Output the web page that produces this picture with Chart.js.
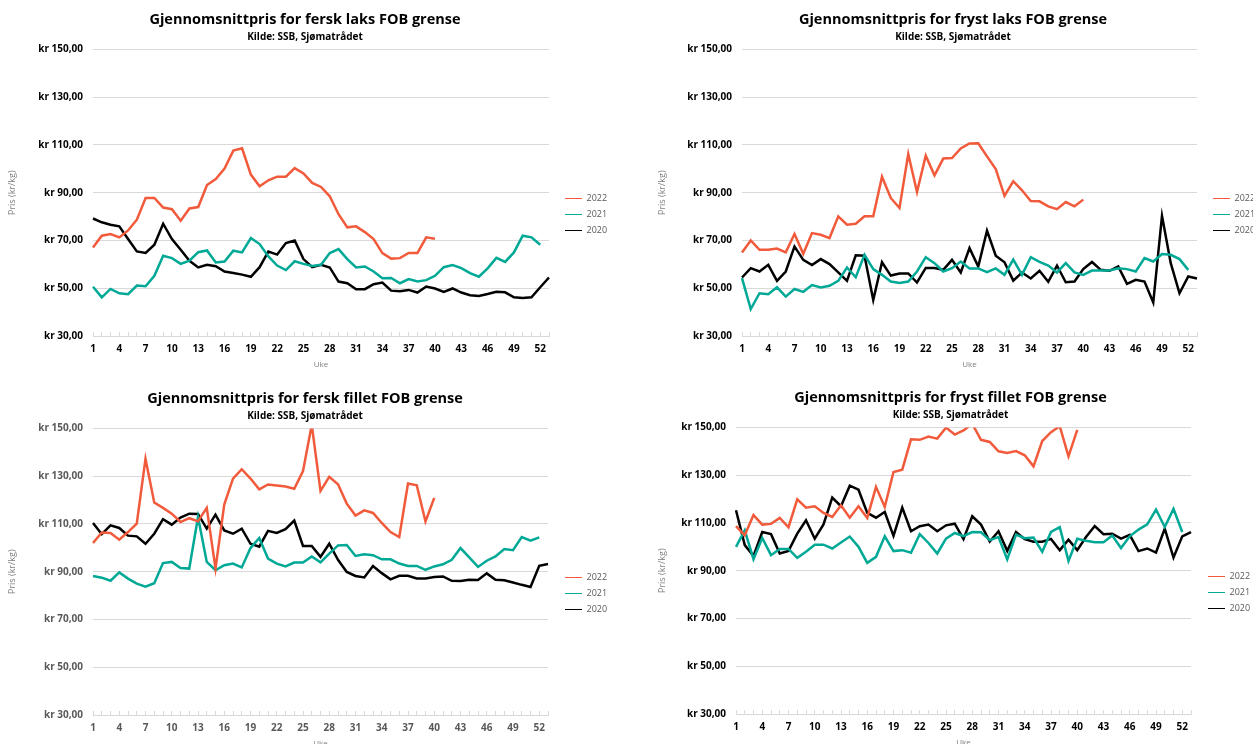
<!DOCTYPE html>
<html>
<head>
<meta charset="utf-8">
<script src="https://cdn.jsdelivr.net/npm/chart.js@4/dist/chart.umd.min.js"></script>
<style>
  html, body { margin: 0; padding: 0; background: #fff; overflow: hidden; width: 1253px; height: 744px; }
  canvas { position: absolute; }
</style>
</head>
<body>
<canvas id="ferskLaks" width="626" height="372" style="left:0;top:0"></canvas>
<canvas id="frystLaks" width="620" height="372" style="left:650px;top:0"></canvas>
<canvas id="ferskFillet" width="626" height="372" style="left:0;top:379px"></canvas>
<canvas id="frystFillet" width="615" height="372" style="left:650px;top:378px"></canvas>
<script>
// Uke 1-53
const weeks = ['1','2','3','4','5','6','7','8','9','10','11','12','13','14','15','16','17','18','19','20',
  '21','22','23','24','25','26','27','28','29','30','31','32','33','34','35','36','37','38','39','40',
  '41','42','43','44','45','46','47','48','49','50','51','52','53'];

// Fersk laks (kr/kg)
const ferskLaks2022 = [67.1,72.0,72.7,71.3,74.2,78.7,87.8,87.8,83.8,83.1, 78.3,83.4,84.0,93.2,95.7,100.1,107.6,108.6,97.6,92.7,
  95.2,96.7,96.7,100.3,98.1,94.1,92.4,88.5,81.0,75.5, 75.9,73.5,70.6,64.7,62.4,62.6,64.8,64.8,71.3,70.7];
const ferskLaks2021 = [50.6,46.2,49.7,47.9,47.5,51.1,50.8,55.2,63.6,62.6, 60.2,61.5,65.1,65.8,60.8,61.2,65.7,65.0,71.0,68.5,
  63.3,59.5,57.6,61.3,60.2,59.3,59.8,64.7,66.4,62.2, 58.7,59.1,57.0,54.2,54.3,52.1,53.8,52.8,53.4,55.2,
  58.8,59.7,58.4,56.3,54.8,58.3,62.7,61.0,65.0,72.0,71.3,68.2];
const ferskLaks2020 = [79.2,77.6,76.6,75.9,70.6,65.4,64.8,68.2,77.0,70.6, 66.1,61.5,58.7,59.8,59.2,57.0,56.4,55.7,54.8,58.8,
  65.4,64.1,68.9,70.0,62.2,58.8,59.8,58.7,52.8,52.1, 49.6,49.6,51.7,52.4,49.0,48.7,49.3,48.2,50.7,49.9,
  48.5,49.9,48.2,47.1,46.8,47.6,48.5,48.3,46.2,45.9,46.2,50.4,54.5];

// Fryst laks
const frystLaks2022 = [65.0,70.0,66.1,66.1,66.6,65.0,72.7,64.4,73.1,72.4, 71.0,80.1,76.6,77.0,80.1,80.1,96.7,87.8,83.6,106.2,
  90.3,105.5,97.3,104.3,104.5,108.5,110.6,110.7,105.2,99.9, 88.7,94.8,91.0,86.5,86.4,84.3,83.1,86.1,84.3,87.1];
const frystLaks2021 = [54.2,41.3,47.9,47.5,50.4,46.5,49.7,48.5,51.3,50.3, 51.0,53.1,58.7,54.6,64.0,58.0,55.6,52.8,52.2,52.8,
  57.0,63.0,60.5,57.0,58.4,61.2,58.3,58.3,56.7,58.3, 55.6,62.0,55.6,63.0,61.0,59.5,56.6,60.5,56.6,55.6,
  57.4,57.4,57.4,58.4,58.0,57.0,62.6,61.2,64.3,64.0,62.2,57.7];
const frystLaks2020 = [54.5,58.4,57.0,59.8,53.1,57.0,67.5,61.9,59.7,62.2, 60.1,56.6,53.1,63.8,63.6,45.1,60.9,55.3,56.2,56.2,
  52.4,58.5,58.5,57.7,61.9,56.6,66.8,59.1,74.1,63.6, 60.9,53.2,56.6,54.1,57.3,52.7,59.5,52.5,52.8,58.0,
  61.0,57.7,57.3,59.1,51.8,53.5,52.8,44.0,80.3,60.5,47.9,54.9,54.1];

// Fersk fillet
const ferskFillet2022 = [102.0,106.4,106.2,103.4,106.6,110.1,137.3,119.0,116.7,114.3, 110.8,112.4,111.1,116.7,91.3,118.1,129.0,132.9,129.0,124.5,
  126.5,126.1,125.7,124.7,132.1,151.5,123.8,129.7,126.6,118.5, 113.5,115.7,114.6,110.4,106.6,104.5,126.9,126.2,111.0,120.9];
const ferskFillet2021 = [88.2,87.5,86.2,89.7,87.1,85.0,83.7,85.2,93.6,94.1, 91.5,91.3,112.9,94.1,90.6,92.7,93.4,91.8,99.9,104.1,
  95.5,93.4,92.2,93.8,93.8,96.4,93.9,97.6,101.0,101.2, 96.6,97.3,96.9,95.2,95.2,93.4,92.4,92.4,90.8,92.2,
  93.1,95.0,99.9,96.0,92.0,94.6,96.4,99.5,99.0,104.5,103.0,104.4];
const ferskFillet2020 = [110.4,105.7,109.4,108.3,105.1,104.8,101.7,105.9,112.0,109.7, 112.7,114.3,114.2,108.0,113.9,107.3,105.9,108.0,101.7,100.5,
  107.1,106.2,107.8,111.4,100.8,100.8,96.2,101.7,95.0,89.9, 88.2,87.6,92.4,89.4,86.8,88.3,88.3,87.2,87.2,87.8,
  88.0,86.2,86.1,86.6,86.5,89.3,86.6,86.4,85.5,84.5,83.6,92.5,93.2];

// Fryst fillet
const frystFillet2022 = [108.7,104.8,113.3,109.3,109.6,112.1,108.2,119.9,116.4,117.0, 114.2,112.5,117.4,112.2,117.0,112.1,125.1,116.7,131.3,132.3,
  145.0,144.8,146.2,145.3,149.9,147.0,148.7,151.5,144.8,143.9, 140.0,139.3,140.1,138.3,133.7,144.3,148.0,150.5,137.9,149.0];
const frystFillet2021 = [100.0,106.9,94.8,103.7,96.5,99.1,99.1,95.4,97.9,100.9, 100.9,99.3,101.8,104.3,100.0,93.3,95.8,104.4,98.2,98.6,
  97.5,105.3,101.6,97.2,103.4,105.8,104.5,106.2,106.1,102.8, 104.1,94.7,105.1,103.6,103.9,97.9,106.2,108.2,94.1,103.4,
  102.5,101.9,101.9,104.7,99.5,104.4,107.2,109.4,115.6,108.3,115.9,106.2];
const frystFillet2020 = [115.3,100.7,96.2,106.2,105.3,97.2,98.3,105.5,111.1,103.4, 109.4,120.6,117.0,125.6,123.9,114.2,112.2,114.6,104.6,116.4,
  106.5,108.6,109.3,106.5,109.0,109.7,103.2,112.8,109.3,102.2, 106.5,98.3,106.2,103.2,102.1,102.1,103.3,98.6,103.0,98.6,
  104.1,108.7,105.3,105.5,103.4,105.0,98.2,99.3,97.6,107.6,95.5,104.4,106.2];

const ORANGE = '#F15A3B';
const TEAL = '#00A896';
const BLACK = '#000000';
const GRID = '#d9d9d9';

Chart.defaults.font.family = "'Open Sans', sans-serif";

function makeChart(id, title, s2022, s2021, s2020, box) {
  return new Chart(document.getElementById(id), {
    type: 'line',
    data: {
      labels: weeks,
      datasets: [
        { label: '2022', data: s2022, borderColor: ORANGE, backgroundColor: ORANGE, yAxisID: 'y' },
        { label: '2021', data: s2021, borderColor: TEAL, backgroundColor: TEAL, yAxisID: 'y' },
        { label: '2020', data: s2020, borderColor: BLACK, backgroundColor: BLACK, yAxisID: 'y' }
      ]
    },
    options: {
      responsive: false,
      animation: false,
      layout: { padding: { left: 0, top: 0, bottom: 0, right: box.padRight } },
      elements: {
        point: { radius: 0 },
        line: { borderWidth: 2.5, tension: 0 }
      },
      plugins: {
        title: {
          display: true, text: title, color: '#000',
          font: { size: 14.5, weight: 'bold' }, padding: { top: 11, bottom: 3 }
        },
        subtitle: {
          display: true, text: 'Kilde: SSB, Sjømatrådet', color: '#000',
          font: { size: 10, weight: 'bold' }, padding: { top: 0, bottom: 6 }
        },
        legend: {
          position: 'right',
          align: 'center',
          maxWidth: box.legendW,
          // empty title just pushes the items down a bit
          title: { display: true, text: ' ', font: { size: 10 }, padding: { top: 45, bottom: 0 } },
          labels: {
            usePointStyle: true, pointStyle: 'line', pointStyleWidth: 17,
            padding: 7, color: '#595959', font: { size: 9 }
          }
        },
        tooltip: { enabled: false }
      },
      scales: {
        x: {
          grid: { display: true, drawOnChartArea: false, drawTicks: true, tickLength: -4, color: GRID },
          border: { color: GRID },
          ticks: {
            autoSkip: false, maxRotation: 0, padding: 11,
            color: box.tickColor, font: { size: 10, weight: 'bold' },
            callback: (v, i) => (i % 3 === 0 ? weeks[i] : '')
          },
          title: { display: true, text: 'Uke', color: '#7f7f7f', font: { size: 8 }, padding: { top: 0, bottom: 2 } },
          afterFit: (s) => { s.height = 36; }
        },
        y: {
          min: 30, max: 150,
          ticks: {
            stepSize: 20, padding: 10, color: box.tickColor,
            font: { size: 10, weight: 'bold' },
            callback: (v) => 'kr ' + v.toFixed(2).replace('.', ',')
          },
          grid: { color: GRID, drawTicks: false },
          border: { display: false },
          title: { display: true, text: 'Pris (kr/kg)', color: '#7f7f7f', font: { size: 9 }, padding: { top: 7, bottom: 0 } },
          afterFit: (s) => { s.width = box.yW; }
        },
        // blank axis = space between plot and legend
        gap: {
          type: 'linear', position: 'right', display: true,
          grid: { display: false }, border: { display: false }, ticks: { display: false },
          afterFit: (s) => { s.width = box.gap; }
        }
      }
    }
  });
}

makeChart('ferskLaks', 'Gjennomsnittpris for fersk laks FOB grense',
  ferskLaks2022, ferskLaks2021, ferskLaks2020, { yW: 93, gap: 9, legendW: 52, padRight: 16, tickColor: '#000' });
makeChart('frystLaks', 'Gjennomsnittpris for fryst laks FOB grense',
  frystLaks2022, frystLaks2021, frystLaks2020, { yW: 92, gap: 9, legendW: 50, padRight: 14, tickColor: '#000' });
makeChart('ferskFillet', 'Gjennomsnittpris for fersk fillet FOB grense',
  ferskFillet2022, ferskFillet2021, ferskFillet2020, { yW: 93, gap: 10, legendW: 52, padRight: 16, tickColor: '#595959' });
makeChart('frystFillet', 'Gjennomsnittpris for fryst fillet FOB grense',
  frystFillet2022, frystFillet2021, frystFillet2020, { yW: 86, gap: 10, legendW: 50, padRight: 14, tickColor: '#000' });
</script>
</body>
</html>
